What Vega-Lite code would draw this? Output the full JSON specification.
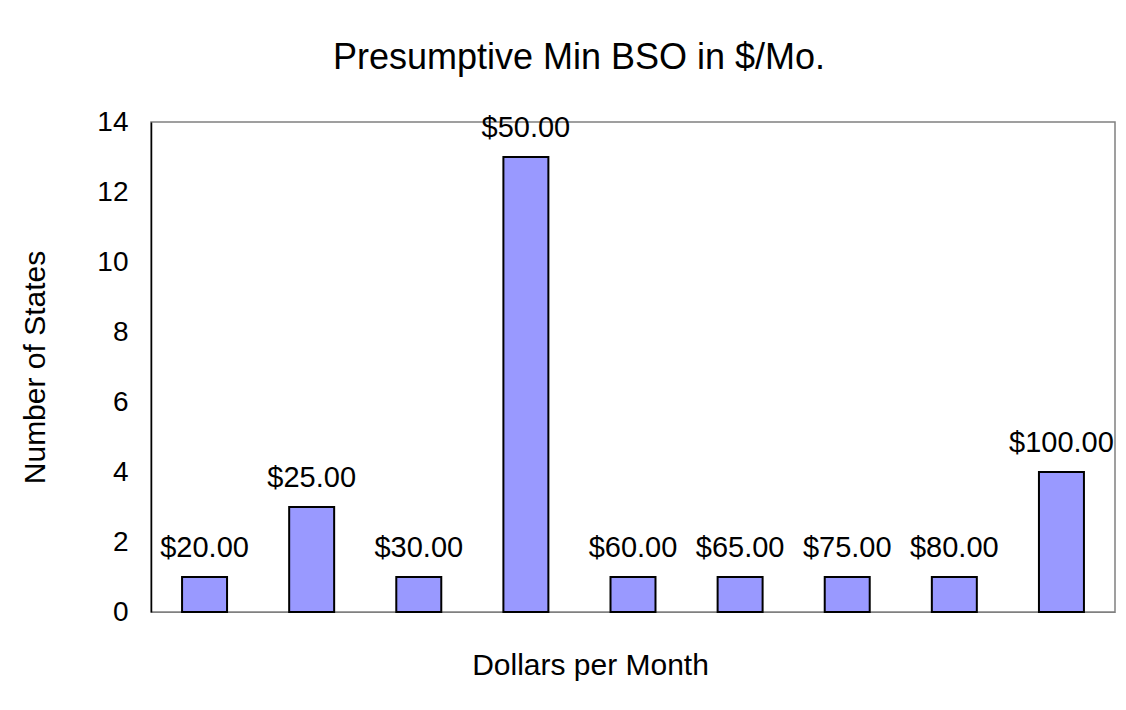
{
  "$schema": "https://vega.github.io/schema/vega-lite/v6.json",
  "width": 964,
  "height": 490,
  "autosize": {"type": "none"},
  "padding": {"left": 151, "top": 122, "right": 11, "bottom": 98},
  "background": "white",
  "config": {
    "font": "Liberation Sans",
    "view": {"stroke": "#808080", "strokeWidth": 1.5}
  },
  "title": {
    "text": "Presumptive Min BSO in $/Mo.",
    "fontSize": 36,
    "fontWeight": "normal",
    "color": "black",
    "anchor": "middle",
    "dx": -54,
    "offset": 31
  },
  "data": {
    "values": [
      {"label": "$20.00", "states": 1},
      {"label": "$25.00", "states": 3},
      {"label": "$30.00", "states": 1},
      {"label": "$50.00", "states": 13},
      {"label": "$60.00", "states": 1},
      {"label": "$65.00", "states": 1},
      {"label": "$75.00", "states": 1},
      {"label": "$80.00", "states": 1},
      {"label": "$100.00", "states": 4}
    ]
  },
  "encoding": {
    "x": {
      "field": "label",
      "type": "nominal",
      "sort": null,
      "scale": {"paddingInner": 0.58, "paddingOuter": 0.29},
      "axis": {
        "title": "Dollars per Month",
        "labels": false,
        "ticks": false,
        "domain": true,
        "domainColor": "#808080",
        "titleFontSize": 30,
        "titleFontWeight": "normal",
        "titleColor": "black",
        "titleX": 439,
        "titleY": 62,
        "titleBaseline": "alphabetic"
      }
    },
    "y": {
      "field": "states",
      "type": "quantitative",
      "scale": {"domain": [0, 14]},
      "axis": {
        "title": "Number of States",
        "values": [0, 2, 4, 6, 8, 10, 12, 14],
        "grid": false,
        "ticks": false,
        "domainColor": "black",
        "domainWidth": 1.5,
        "labelFontSize": 28,
        "labelColor": "black",
        "labelPadding": 23,
        "titleFontSize": 30,
        "titleFontWeight": "normal",
        "titleColor": "black",
        "titleX": -116,
        "titleY": 245,
        "titleAngle": -90,
        "titleBaseline": "middle",
        "titleAlign": "center"
      }
    }
  },
  "layer": [
    {
      "mark": {"type": "bar", "color": "#9999FF", "stroke": "black", "strokeWidth": 2}
    },
    {
      "mark": {"type": "text", "fontSize": 29, "color": "black", "baseline": "alphabetic", "dy": -20},
      "encoding": {"text": {"field": "label"}}
    }
  ]
}
